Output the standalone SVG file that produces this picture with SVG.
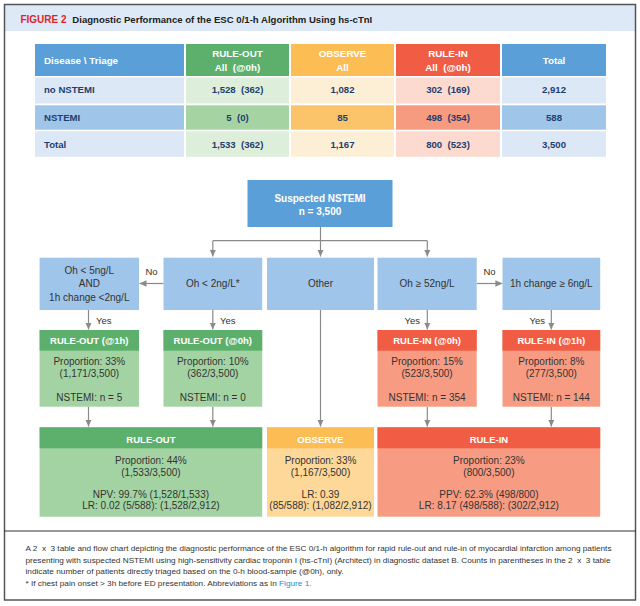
<svg xmlns="http://www.w3.org/2000/svg" width="640" height="606" viewBox="0 0 640 606">
<defs>
<style>
text{font-family:"Liberation Sans",Arial,sans-serif}
.th{font-size:9.8px;font-weight:bold;fill:#fff;text-anchor:middle}
.tb{font-size:9.6px;font-weight:bold;fill:#1f3e6f;text-anchor:middle}
.tl{font-size:9.6px;font-weight:bold;fill:#1f3e6f}
.ft{font-size:10px;fill:#333;text-anchor:middle}
.fh{font-size:9.5px;font-weight:bold;fill:#fff;text-anchor:middle}
.lb{font-size:9.5px;fill:#333}
.cap{font-size:7.7px;fill:#333}
.conn{stroke:#8a8a8a;stroke-width:1.2;fill:none}
.hb{fill:#5b9fd8}.lbl{fill:#dce8f6}.mbl{fill:#9fc5e8}
.hg{fill:#5cb06c}.lg{fill:#ddeedb}.mg{fill:#a5d4a2}
.ho{fill:#fdbd55}.lo{fill:#fdefd6}.mo{fill:#fcc46a}
.hr{fill:#f15c45}.lr{fill:#fcdacf}.mr{fill:#f69a80}
.box{fill:#9fc5ea}
.gb{fill:#a3d3a3}.ob{fill:#fed899}.rb{fill:#f79c82}
</style>
<marker id="ah" markerUnits="userSpaceOnUse" markerWidth="8" markerHeight="8" viewBox="0 0 8 8" refX="7" refY="4" orient="auto">
<path d="M0,0.8 L7,4 L0,7.2 z" fill="#8a8a8a"/>
</marker>
</defs>
<rect x="0" y="0" width="640" height="606" fill="#fff"/>
<rect x="5" y="5" width="630" height="26" fill="#dde9f7"/>
<rect x="4.5" y="4.5" width="631" height="595.5" fill="none" stroke="#555" stroke-width="1.5"/>
<line x1="4" y1="531" x2="636" y2="531" stroke="#333" stroke-width="1.2"/>
<g id="title">
<text x="20.5" y="22.5" font-size="10" font-weight="bold" fill="#e31e24" textLength="46" lengthAdjust="spacingAndGlyphs">FIGURE 2</text>
<text x="72.3" y="22.5" font-size="9.8" font-weight="bold" fill="#222" textLength="300" lengthAdjust="spacingAndGlyphs">Diagnostic Performance of the ESC 0/1-h Algorithm Using hs-cTnI</text>
</g>
<g id="table">
<rect class="hb" x="35" y="44" width="149" height="32"/>
<rect class="hg" x="186" y="44" width="103" height="32"/>
<rect class="ho" x="291" y="44" width="103" height="32"/>
<rect class="hr" x="396" y="44" width="104" height="32"/>
<rect class="hb" x="502" y="44" width="104" height="32"/>
<rect class="lbl" x="35" y="77.5" width="149" height="26"/>
<rect class="lg" x="186" y="77.5" width="103" height="26"/>
<rect class="lo" x="291" y="77.5" width="103" height="26"/>
<rect class="lr" x="396" y="77.5" width="104" height="26"/>
<rect class="lbl" x="502" y="77.5" width="104" height="26"/>
<rect class="mbl" x="35" y="105.3" width="149" height="24.4"/>
<rect class="mg" x="186" y="105.3" width="103" height="24.4"/>
<rect class="mo" x="291" y="105.3" width="103" height="24.4"/>
<rect class="mr" x="396" y="105.3" width="104" height="24.4"/>
<rect class="mbl" x="502" y="105.3" width="104" height="24.4"/>
<rect class="lbl" x="35" y="131.3" width="149" height="25.5"/>
<rect class="lg" x="186" y="131.3" width="103" height="25.5"/>
<rect class="lo" x="291" y="131.3" width="103" height="25.5"/>
<rect class="lr" x="396" y="131.3" width="104" height="25.5"/>
<rect class="lbl" x="502" y="131.3" width="104" height="25.5"/>
<text class="th" x="44" y="63.5" style="text-anchor:start">Disease \ Triage</text>
<text class="th" x="237.5" y="56.5">RULE-OUT</text>
<text class="th" x="237.5" y="70.8">All&#160; (@0h)</text>
<text class="th" x="342.5" y="56.5">OBSERVE</text>
<text class="th" x="342.5" y="70.8">All</text>
<text class="th" x="448" y="56.5">RULE-IN</text>
<text class="th" x="448" y="70.8">All&#160; (@0h)</text>
<text class="th" x="554" y="64">Total</text>
<text class="tl" x="44" y="93">no NSTEMI</text>
<text class="tb" x="237.5" y="93">1,528&#160; (362)</text>
<text class="tb" x="342.5" y="93">1,082</text>
<text class="tb" x="448" y="93">302&#160; (169)</text>
<text class="tb" x="554" y="93">2,912</text>
<text class="tl" x="44" y="120.5">NSTEMI</text>
<text class="tb" x="237.5" y="120.5">5&#160; (0)</text>
<text class="tb" x="342.5" y="120.5">85</text>
<text class="tb" x="448" y="120.5">498&#160; (354)</text>
<text class="tb" x="554" y="120.5">588</text>
<text class="tl" x="44" y="147.5">Total</text>
<text class="tb" x="237.5" y="147.5">1,533&#160; (362)</text>
<text class="tb" x="342.5" y="147.5">1,167</text>
<text class="tb" x="448" y="147.5">800&#160; (523)</text>
<text class="tb" x="554" y="147.5">3,500</text>
</g>
<g id="connectors">
<path class="conn" d="M320.5,227 V256.5" marker-end="url(#ah)"/>
<path class="conn" d="M212.8,240.7 H427.3"/>
<path class="conn" d="M212.8,240.7 V256.5" marker-end="url(#ah)"/>
<path class="conn" d="M427.3,240.7 V256.5" marker-end="url(#ah)"/>
<path class="conn" d="M163.5,283.5 H139.5" marker-end="url(#ah)"/>
<path class="conn" d="M476.7,283.5 H502.4" marker-end="url(#ah)"/>
<path class="conn" d="M88.5,310 V329.5" marker-end="url(#ah)"/>
<path class="conn" d="M212.8,310 V329.5" marker-end="url(#ah)"/>
<path class="conn" d="M427.3,310 V329.5" marker-end="url(#ah)"/>
<path class="conn" d="M551.3,310 V329.5" marker-end="url(#ah)"/>
<path class="conn" d="M88.5,406.7 V426.5" marker-end="url(#ah)"/>
<path class="conn" d="M212.8,406.7 V426.5" marker-end="url(#ah)"/>
<path class="conn" d="M320.5,310 V426.5" marker-end="url(#ah)"/>
<path class="conn" d="M427.3,406.7 V426.5" marker-end="url(#ah)"/>
<path class="conn" d="M551.3,406.7 V426.5" marker-end="url(#ah)"/>
<text class="lb" x="151.5" y="275" text-anchor="middle">No</text>
<text class="lb" x="489.5" y="275" text-anchor="middle">No</text>
<text class="lb" x="96" y="323.5">Yes</text>
<text class="lb" x="220" y="323.5">Yes</text>
<text class="lb" x="420" y="323.5" text-anchor="end">Yes</text>
<text class="lb" x="545" y="323.5" text-anchor="end">Yes</text>
</g>
<g id="n-start">
<rect class="hb" x="247.5" y="180" width="145" height="47"/>
<text class="fh" x="320" y="202" style="font-size:10px">Suspected NSTEMI</text>
<text class="fh" x="320" y="215.3" style="font-size:10px">n = 3,500</text>
</g>
<g id="n-oh5">
<rect class="box" x="39.6" y="257.7" width="99.4" height="52.3"/>
<text class="ft" x="89.3" y="273.5">Oh &lt; 5ng/L</text>
<text class="ft" x="89.3" y="286.8">AND</text>
<text class="ft" x="89.3" y="300.8">1h change &lt;2ng/L</text>
</g>
<g id="n-oh2">
<rect class="box" x="163.5" y="257.7" width="98.7" height="52.3"/>
<text class="ft" x="212.8" y="287.3">Oh &lt; 2ng/L*</text>
</g>
<g id="n-other">
<rect class="box" x="267" y="257.7" width="107" height="52.3"/>
<text class="ft" x="320.5" y="287.3">Other</text>
</g>
<g id="n-oh52">
<rect class="box" x="377.5" y="257.7" width="99.2" height="52.3"/>
<text class="ft" x="427.1" y="287.3">Oh ≥ 52ng/L</text>
</g>
<g id="n-1h6">
<rect class="box" x="502.5" y="257.7" width="97.7" height="52.3"/>
<text class="ft" x="551.3" y="287.3">1h change ≥ 6ng/L</text>
</g>
<g id="n-ro1h">
<rect class="gb" x="39.6" y="330" width="99.4" height="76.7"/>
<rect class="hg" x="39.6" y="330" width="99.4" height="20.7"/>
<text class="fh" x="89.3" y="344.2">RULE-OUT (@1h)</text>
<text class="ft" x="89.3" y="365.2">Proportion: 33%</text>
<text class="ft" x="89.3" y="376.8">(1,171/3,500)</text>
<text class="ft" x="89.3" y="400.5">NSTEMI: n = 5</text>
</g>
<g id="n-ro0h">
<rect class="gb" x="163.5" y="330" width="98.7" height="76.7"/>
<rect class="hg" x="163.5" y="330" width="98.7" height="20.7"/>
<text class="fh" x="212.8" y="344.2">RULE-OUT (@0h)</text>
<text class="ft" x="212.8" y="365.2">Proportion: 10%</text>
<text class="ft" x="212.8" y="376.8">(362/3,500)</text>
<text class="ft" x="212.8" y="400.5">NSTEMI: n = 0</text>
</g>
<g id="n-ri0h">
<rect class="rb" x="377.5" y="330" width="99.2" height="76.7"/>
<rect class="hr" x="377.5" y="330" width="99.2" height="20.7"/>
<text class="fh" x="427.1" y="344.2">RULE-IN (@0h)</text>
<text class="ft" x="427.1" y="365.2">Proportion: 15%</text>
<text class="ft" x="427.1" y="376.8">(523/3,500)</text>
<text class="ft" x="427.1" y="400.5">NSTEMI: n = 354</text>
</g>
<g id="n-ri1h">
<rect class="rb" x="502.5" y="330" width="97.7" height="76.7"/>
<rect class="hr" x="502.5" y="330" width="97.7" height="20.7"/>
<text class="fh" x="551.3" y="344.2">RULE-IN (@1h)</text>
<text class="ft" x="551.3" y="365.2">Proportion: 8%</text>
<text class="ft" x="551.3" y="376.8">(277/3,500)</text>
<text class="ft" x="551.3" y="400.5">NSTEMI: n = 144</text>
</g>
<g id="n-ruleout">
<rect class="gb" x="39.6" y="427.3" width="222.6" height="89.4"/>
<rect class="hg" x="39.6" y="427.3" width="222.6" height="21"/>
<text class="fh" x="150.9" y="442.5">RULE-OUT</text>
<text class="ft" x="150.9" y="463.5">Proportion: 44%</text>
<text class="ft" x="150.9" y="475.8">(1,533/3,500)</text>
<text class="ft" x="150.9" y="497.5">NPV: 99.7% (1,528/1,533)</text>
<text class="ft" x="150.9" y="508.8">LR: 0.02 (5/588): (1,528/2,912)</text>
</g>
<g id="n-observe">
<rect class="ob" x="267" y="427.3" width="107" height="89.4"/>
<rect class="ho" x="267" y="427.3" width="107" height="21"/>
<text class="fh" x="320.5" y="442.5">OBSERVE</text>
<text class="ft" x="320.5" y="463.5">Proportion: 33%</text>
<text class="ft" x="320.5" y="475.8">(1,167/3,500)</text>
<text class="ft" x="320.5" y="497.5">LR: 0.39</text>
<text class="ft" x="320.5" y="508.8">(85/588): (1,082/2,912)</text>
</g>
<g id="n-rulein">
<rect class="rb" x="377.5" y="427.3" width="222.7" height="89.4"/>
<rect class="hr" x="377.5" y="427.3" width="222.7" height="21"/>
<text class="fh" x="488.9" y="442.5">RULE-IN</text>
<text class="ft" x="488.9" y="463.5">Proportion: 23%</text>
<text class="ft" x="488.9" y="475.8">(800/3,500)</text>
<text class="ft" x="488.9" y="497.5">PPV: 62.3% (498/800)</text>
<text class="ft" x="488.9" y="508.8">LR: 8.17 (498/588): (302/2,912)</text>
</g>
<g id="caption">
<text class="cap" x="25.5" y="550.8" textLength="586" lengthAdjust="spacingAndGlyphs">A 2&#160; x&#160; 3 table and flow chart depicting the diagnostic performance of the ESC 0/1-h algorithm for rapid rule-out and rule-in of myocardial infarction among patients</text>
<text class="cap" x="25.5" y="562.5" textLength="585" lengthAdjust="spacingAndGlyphs">presenting with suspected NSTEMI using high-sensitivity cardiac troponin I (hs-cTnI) (Architect) in diagnostic dataset B. Counts in parentheses in the 2&#160; x&#160; 3 table</text>
<text class="cap" x="25.5" y="574" textLength="318" lengthAdjust="spacingAndGlyphs">indicate number of patients directly triaged based on the 0-h blood-sample (@0h), only.</text>
<text class="cap" x="25.5" y="585.5" textLength="286" lengthAdjust="spacingAndGlyphs">* If chest pain onset &gt; 3h before ED presentation. Abbreviations as in <tspan fill="#1a8fd6">Figure 1.</tspan></text>
</g>
</svg>
